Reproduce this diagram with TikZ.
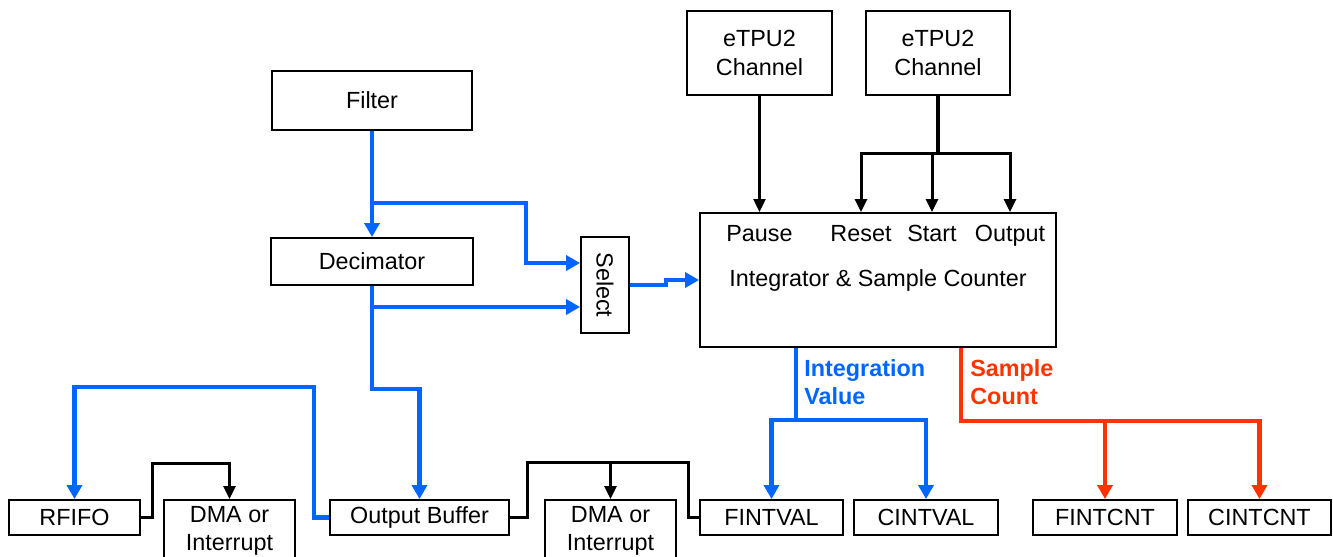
\documentclass[tikz,border=0pt]{standalone}
\usepackage{fontspec}
\setmainfont{Liberation Sans}
\usetikzlibrary{calc, arrows.meta}
\definecolor{blu}{HTML}{0066FF}
\definecolor{arancio}{HTML}{FF3300}

\begin{document}
\begin{tikzpicture}[x=0.02cm, y=-0.02cm,
        blocco/.style={draw, line width=1.1pt, inner sep=0pt, align=center, font=\fontsize{13.3}{16}\selectfont},
        etichetta/.style={inner sep=0pt, align=center, font=\fontsize{13.3}{16}\selectfont},
        segnale/.style={line width=2.6pt, color=blu},
        conteggio/.style={line width=2.6pt, color=arancio},
        nera/.style={line width=1.7pt},
        freccia/.style={-{Triangle[length=0.28cm,width=0.3cm]}},
        frecciadoppia/.style={{Triangle[length=0.28cm,width=0.3cm]}-{Triangle[length=0.28cm,width=0.3cm]}},
        frecciaN/.style={-{Triangle[length=0.26cm,width=0.24cm]}},
        frecciadoppiaN/.style={{Triangle[length=0.26cm,width=0.24cm]}-{Triangle[length=0.26cm,width=0.24cm]}}]
        \useasboundingbox (0,0) rectangle (1333,556);
        %disegno blocchi
        \node[blocco, minimum width=4.0cm, minimum height=1.18cm] (filtro) at (372,100.5) {Filter};
        \node[blocco, minimum width=4.04cm, minimum height=0.94cm] (decim) at (372,261.5) {Decimator};
        \node[blocco, minimum width=0.96cm, minimum height=1.92cm] (select) at (605,285) {\rotatebox{-90}{Select}};
        \node[blocco, minimum width=7.12cm, minimum height=2.68cm] (integ) at (878,280) {Integrator \& Sample Counter};
        \node[blocco, minimum width=2.9cm, minimum height=1.68cm] (etpuA) at (759.5,53) {eTPU2\\Channel};
        \node[blocco, minimum width=2.88cm, minimum height=1.68cm] (etpuB) at (938,53) {eTPU2\\Channel};
        %disegno blocchi in basso
        \node[blocco, minimum width=2.62cm, minimum height=0.7cm] (rfifo) at (74.5,517.5) {RFIFO};
        \node[blocco, minimum width=2.62cm, minimum height=1.24cm] (dmaA) at (229.5,531) {DMA or\\Interrupt};
        \node[blocco, minimum width=3.58cm, minimum height=0.7cm] (obuf) at (419.5,517.5) {Output Buffer};
        \node[blocco, minimum width=2.62cm, minimum height=1.24cm] (dmaB) at (610.5,531) {DMA or\\Interrupt};
        \node[blocco, minimum width=2.86cm, minimum height=0.7cm] (fintval) at (771.5,517.5) {FINTVAL};
        \node[blocco, minimum width=2.88cm, minimum height=0.7cm] (cintval) at (926,517.5) {CINTVAL};
        \node[blocco, minimum width=2.88cm, minimum height=0.7cm] (fintcnt) at (1105,517.5) {FINTCNT};
        \node[blocco, minimum width=2.86cm, minimum height=0.7cm] (cintcnt) at (1259.5,517.5) {CINTCNT};
        %disegno ingressi integratore
        \node[etichetta, anchor=base] (pause) at (759.5,241) {Pause};
        \node[etichetta, anchor=base] (reset) at (861,241) {Reset};
        \node[etichetta, anchor=base] (start) at (932,241) {Start};
        \node[etichetta, anchor=base] (output) at (1010,241) {Output};
        %disegno etichette uscite
        \node[etichetta, anchor=west, align=left, text=blu, font=\fontsize{13.3}{16}\selectfont\bfseries] (valore) at (804,382) {Integration\\Value};
        \node[etichetta, anchor=west, align=left, text=arancio, font=\fontsize{13.3}{16}\selectfont\bfseries] (conto) at (970,382) {Sample\\Count};
        %disegno filtro -> decimatore
        \draw[segnale, freccia] (filtro.south) -- (decim.north);
        %disegno filtro -> select
        \coordinate (selA) at ($(select.west)+(0,-22)$);
        \draw[segnale, freccia] ($(filtro.south)+(0,72)$) -| ($(selA)+(-54,0)$) -- (selA);
        %disegno decimatore -> select
        \coordinate (selB) at ($(select.west)+(0,22)$);
        \draw[segnale, freccia] (decim.south |- selB) -- (selB);
        %disegno decimatore -> output buffer
        \draw[segnale, freccia] (decim.south) |- ($(obuf.north)+(0,-110)$) -- (obuf.north);
        %disegno select -> integratore
        \draw[segnale, freccia] (select.east) -- ++(36,0) |- (integ.west);
        %disegno output buffer -> RFIFO
        \draw[segnale, freccia] (obuf.west) -- ++(-15,0) |- ($(rfifo.north)+(0,-112)$) -- (rfifo.north);
        %disegno RFIFO -> DMA
        \draw[nera, frecciaN] (rfifo.east) -- ++(12,0) |- ($(dmaA.north)+(0,-36)$) -- (dmaA.north);
        %disegno output buffer -> DMA e FINTVAL
        \coordinate (nodoB) at ($(dmaB.north)+(0,-37)$);
        \draw[nera] (obuf.east) -- ++(18,0) |- (nodoB) -| ($(fintval.west)+(-11,0)$) -- (fintval.west);
        \draw[nera, frecciaN] (nodoB) -- (dmaB.north);
        %disegno valore integrazione
        \coordinate (uscV) at ($(integ.south west)+(97,0)$);
        \coordinate (nodoV) at ($(fintval.north)+(0,-79)$);
        \draw[segnale] (uscV) -- (uscV |- nodoV);
        \draw[segnale, frecciadoppia] (fintval.north) -- (nodoV) -| (cintval.north);
        %disegno conteggio campioni
        \coordinate (uscC) at ($(integ.south west)+(262,0)$);
        \coordinate (nodoC) at ($(fintcnt.north)+(0,-78)$);
        \draw[conteggio, freccia] (uscC) |- ($(cintcnt.north)+(0,-78)$) -- (cintcnt.north);
        \draw[conteggio, freccia] (nodoC) -- (fintcnt.north);
        %disegno canali eTPU2
        \draw[line width=1.2pt, frecciaN] (etpuA.south) -- (etpuA.south |- integ.north);
        \coordinate (nodoE) at ($(etpuB.south)+(0,58)$);
        \draw[line width=2.2pt] (etpuB.south) -- (nodoE);
        \draw[nera, frecciadoppiaN] (reset |- integ.north) |- (nodoE) -| (output |- integ.north);
        \draw[nera, frecciaN] (start |- nodoE) -- (start |- integ.north);
\end{tikzpicture}
\end{document}
